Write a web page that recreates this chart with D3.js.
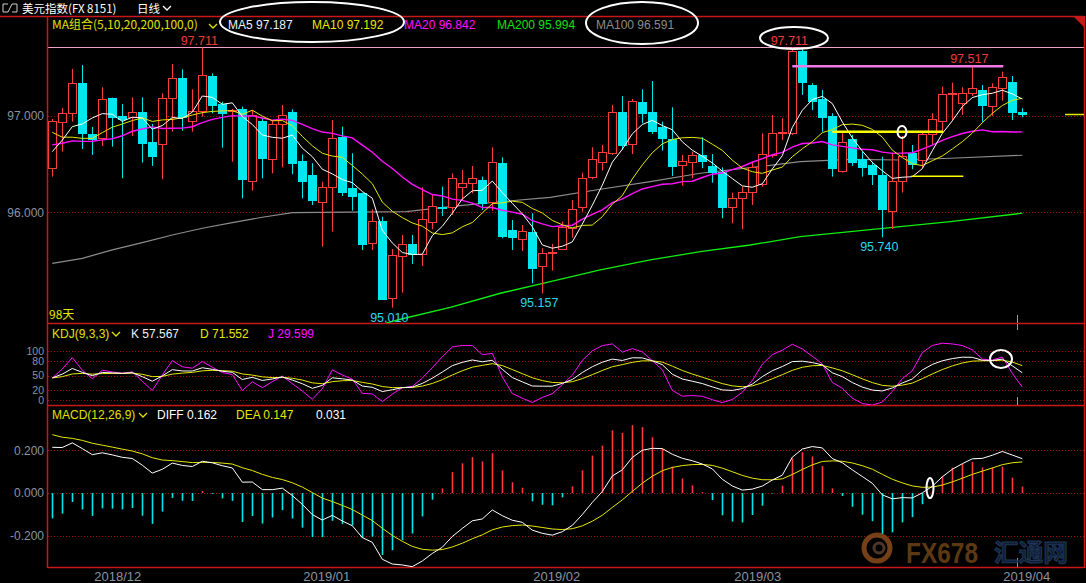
<!DOCTYPE html>
<html><head><meta charset="utf-8">
<script src="https://cdn.jsdelivr.net/npm/d3@7/dist/d3.min.js"></script>
<style>
html,body{margin:0;padding:0;background:#000;overflow:hidden;}
svg{display:block;font-family:"Liberation Sans",Arial,sans-serif;}
</style></head><body>
<svg id="chart" width="1086" height="583"></svg>
<script>
// ---------------- data ----------------
const opens  = [96.457,96.935,97.028,97.340,96.813,96.768,97.187,97.000,96.987,97.038,
                96.730,96.706,97.184,97.391,96.951,97.055,97.415,97.125,97.047,97.073,
                96.328,96.948,96.550,96.914,97.038,96.533,96.387,96.110,96.260,96.785,
                96.255,96.204,95.684,95.910,95.113,95.549,95.671,95.567,95.902,96.058,
                96.058,96.260,96.301,96.335,96.110,96.509,95.816,95.720,95.792,95.446,
                95.578,95.616,95.834,96.052,96.370,96.525,96.613,97.045,96.706,97.145,
                97.045,96.889,96.761,96.494,96.519,96.595,96.481,96.422,96.052,96.145,
                96.208,96.291,96.595,96.827,96.827,97.678,97.322,97.173,97.000,96.432,
                96.761,96.550,96.491,96.387,96.017,96.328,96.613,96.543,96.813,96.951,
                97.236,97.138,97.242,97.270,97.107,97.294,97.356,97.045];
const highs  = [96.969,97.083,97.488,97.530,96.886,97.298,97.190,97.125,97.194,97.194,
                96.917,97.236,97.540,97.485,97.277,97.711,97.443,97.148,97.073,97.097,
                97.062,96.979,96.958,97.114,97.070,96.602,96.509,96.318,96.958,96.889,
                96.613,96.204,96.031,95.954,95.619,95.764,95.764,96.260,96.180,96.266,
                96.405,96.439,96.481,96.370,96.675,96.571,95.920,95.868,95.990,95.626,
                95.671,95.902,96.128,96.411,96.675,96.699,97.114,97.208,97.177,97.277,
                97.363,96.941,97.090,96.595,96.629,96.779,96.605,96.467,96.204,96.266,
                96.525,96.820,97.010,96.976,97.711,97.703,97.340,97.270,97.028,96.820,
                96.803,96.629,96.525,96.577,96.619,96.792,96.699,96.837,97.028,97.304,
                97.346,97.298,97.517,97.322,97.340,97.460,97.415,97.080];
const lows   = [96.370,96.629,96.941,96.657,96.595,96.688,96.681,96.353,96.792,96.515,
                96.481,96.343,96.837,96.847,96.837,96.993,97.028,96.671,96.525,96.145,
                96.224,96.353,96.405,96.467,96.395,96.145,96.076,95.643,95.799,96.169,
                96.017,95.609,95.609,95.100,95.010,95.165,95.463,95.442,95.824,95.962,
                95.972,96.128,96.197,96.024,96.017,95.730,95.609,95.598,95.263,95.157,
                95.394,95.609,95.736,96.006,96.343,96.432,96.595,96.647,96.605,96.924,
                96.813,96.640,96.377,96.276,96.353,96.457,96.307,95.938,95.886,95.824,
                96.076,96.266,96.567,96.751,96.803,97.218,97.062,96.837,96.370,96.411,
                96.481,96.370,96.283,95.740,95.827,96.204,96.447,96.457,96.699,96.837,
                96.958,97.010,97.208,96.941,97.000,97.159,96.958,96.986];
const closes = [96.948,97.028,97.340,96.820,96.761,97.173,96.993,96.972,97.038,96.723,
                96.585,97.184,97.391,96.987,97.049,97.426,97.114,97.034,97.057,96.343,
                97.010,96.567,96.914,97.010,96.509,96.328,96.128,96.260,96.768,96.214,
                96.169,95.671,95.910,95.100,95.557,95.671,95.567,95.927,96.065,96.042,
                96.353,96.301,96.353,96.093,96.519,95.757,95.740,95.809,95.425,95.574,
                95.585,95.844,96.031,96.353,96.550,96.629,97.038,96.699,97.156,97.034,
                96.847,96.768,96.481,96.530,96.595,96.536,96.422,96.052,96.145,96.214,
                96.467,96.602,96.820,96.837,97.678,97.356,97.156,96.993,96.463,96.727,
                96.525,96.474,96.398,96.034,96.328,96.585,96.502,96.813,96.966,97.225,
                97.242,97.236,97.288,97.114,97.298,97.402,97.045,97.021];
// closes before the first visible candle (needed by MA5/10/20)
const preCloses = [96.70,96.85,96.92,96.75,96.88,96.76,96.35,96.10,96.25,96.15,
                   97.53,97.34,96.94,96.76,96.58,96.43,96.64,96.68,96.45];
// highs / lows of the 8 candles before the first visible one (KDJ window)
const kdjPreHigh = [97.45,97.35,96.98,96.80,96.62,96.72,96.78,96.70];
const kdjPreLow  = [97.15,96.90,96.70,96.48,96.33,96.40,96.52,96.40];
const kdjStart   = [40, 45];               // K, D before first candle
const macdStart  = [96.82, 96.60, 0.288];  // EMA12, EMA26, DEA before first candle
const ma100Idx = [0,3,6,9,12,15,18,21,24,35.4,39.8,44.8,49.8,54.8,59.8,64.8,69.8,74.8,79.8,84.8,89.8,97];
const ma100Val = [95.470,95.522,95.609,95.684,95.764,95.834,95.892,95.948,95.996,96.006,96.058,96.110,
                  96.155,96.239,96.318,96.405,96.463,96.525,96.550,96.543,96.561,96.592];
const ma200Idx = [33.3,34.8,39.8,44.8,49.8,54.8,59.8,64.8,69.8,74.8,79.8,84.8,89.8,97];
const ma200Val = [94.847,94.889,95.013,95.159,95.279,95.401,95.505,95.591,95.660,95.747,95.799,
                  95.851,95.902,95.990];
const monthLabels = ["2018/12","2019/01","2019/02","2019/03","2019/04"];
const monthIdx    = [6.5,27.4,50.4,70.5,97.4];
const priceTicks = [96, 97];
const kdjTicks   = [0, 20, 50, 80, 100];
const macdTicks  = [-0.2, 0, 0.2];
const maLegend   = ["MA5 97.187","MA10 97.192","MA20 96.842","MA200 95.994","MA100 96.591"];
const kdjLegend  = ["K 57.567","D 71.552","J 29.599"];
const macdLegend = ["DIFF 0.162","DEA 0.147","0.031"];
const highMarks  = [15, 74, 92];   // candle indexes with labelled highs
const lowMarks   = [34, 49, 83];   // candle indexes with labelled lows

// ---------------- setup ----------------
const RED = "#ff3b3b", CYAN = "#00e8ee", FRAME = "#c81818", GRID = "#9a1010", AXT = "#8a94a0";
const svg = d3.select("#chart");
svg.append("rect").attr("width",1086).attr("height",583).attr("fill","#000");
const N = closes.length, idx = d3.range(N);
const L = 48, R = 1084;
const x  = d3.scaleLinear().domain([0, N-1]).range([52.3, 1022.3]);
const yP = d3.scaleLinear().domain([95.010, 97.711]).range([307.6, 47.5]);
const yK = d3.scaleLinear().domain([0, 100]).range([400, 351]);
const yM = d3.scaleLinear().domain([-0.2, 0.2]).range([535.8, 450.3]);
const cx = i => Math.round(x(i)) + 0.5;

const defs = svg.append("defs");
defs.append("clipPath").attr("id","clipP").append("rect").attr("x",L).attr("y",46).attr("width",R-L).attr("height",323-46);
defs.append("clipPath").attr("id","clipK").append("rect").attr("x",L).attr("y",324).attr("width",R-L).attr("height",81);
defs.append("clipPath").attr("id","clipM").append("rect").attr("x",L).attr("y",406).attr("width",R-L).attr("height",161);

// ---------------- indicators ----------------
const allC = preCloses.concat(closes), P = preCloses.length;
function ma(n){ return idx.map(i => d3.mean(allC.slice(P+i-n+1, P+i+1))); }
const ma5 = ma(5), ma10 = ma(10), ma20 = ma(20);

const kH = kdjPreHigh.concat(highs), kL = kdjPreLow.concat(lows), Q = kdjPreHigh.length;
let K = kdjStart[0], D = kdjStart[1];
const kA = [], dA = [], jA = [];
idx.forEach(i => {
  const hh = d3.max(kH.slice(Q+i-8, Q+i+1)), ll = d3.min(kL.slice(Q+i-8, Q+i+1));
  const rsv = (closes[i]-ll)/(hh-ll)*100;
  K = (2*K + rsv)/3; D = (2*D + K)/3;
  kA.push(K); dA.push(D); jA.push(3*K-2*D);
});
let e12 = macdStart[0], e26 = macdStart[1], dea = macdStart[2];
const diffA = [], deaA = [], histA = [];
idx.forEach(i => {
  e12 = e12*11/13 + closes[i]*2/13;
  e26 = e26*25/27 + closes[i]*2/27;
  const df = e12 - e26; dea = dea*0.8 + df*0.2;
  diffA.push(df); deaA.push(dea); histA.push(2*(df-dea));
});

// ---------------- frame & grid ----------------
function hline(y, x1, x2, color, w, dash){
  svg.append("line").attr("x1",x1).attr("x2",x2).attr("y1",y).attr("y2",y)
     .attr("stroke",color).attr("stroke-width",w||1).attr("stroke-dasharray",dash||null);
}
priceTicks.forEach(v => hline(Math.round(yP(v))+0.5, L, R, GRID, 1, "1,2"));
kdjTicks.forEach(v => hline(Math.round(yK(v))+0.5, L, R, GRID, 1, "1,2"));
macdTicks.forEach(v => hline(Math.round(yM(v))+0.5, L, R, GRID, 1, "1,2"));

hline(16.5, 0, R, FRAME, 1.5);
hline(47.5, L, R, "#f0a0c4", 1.2);
hline(323.5, L, R, FRAME, 1.5);
hline(405.5, L, R, FRAME, 1.5);
hline(567.5, L, R, FRAME, 1.5);
svg.append("line").attr("x1",L-0.5).attr("x2",L-0.5).attr("y1",16).attr("y2",568).attr("stroke",FRAME).attr("stroke-width",1.5);
svg.append("line").attr("x1",R+0.5).attr("x2",R+0.5).attr("y1",16).attr("y2",568).attr("stroke",FRAME).attr("stroke-width",1.5);
svg.append("path").attr("d",`M${R-10},17 L${R},17 L${R},27 Z`).attr("fill","#c81818");
// month separator ticks at right
[[315,323],[324,330],[397,405],[558,567]].forEach(s =>
  svg.append("line").attr("x1",1017.5).attr("x2",1017.5).attr("y1",s[0]).attr("y2",s[1]).attr("stroke","#9a9a9a"));

// ---------------- axes ----------------
function styleAxis(g, size, color){
  g.select(".domain").remove();
  g.selectAll("text").attr("fill", color).attr("font-size", size).attr("font-family","Liberation Sans, Arial, sans-serif");
}
const fmt3 = v => d3.format(".3f")(v).replace("\u2212","-");
svg.append("g").attr("transform",`translate(${L},0)`)
  .call(d3.axisLeft(yP).tickValues(priceTicks).tickFormat(fmt3).tickSize(0).tickPadding(4))
  .call(g => styleAxis(g, 12, AXT));
svg.append("g").attr("transform",`translate(${L},0)`)
  .call(d3.axisLeft(yK).tickValues(kdjTicks).tickFormat(d3.format("d")).tickSize(0).tickPadding(4))
  .call(g => styleAxis(g, 10.5, AXT));
svg.append("g").attr("transform",`translate(${L},0)`)
  .call(d3.axisLeft(yM).tickValues(macdTicks).tickFormat(fmt3).tickSize(0).tickPadding(4))
  .call(g => styleAxis(g, 12, AXT));
svg.append("g").attr("transform",`translate(0,567)`)
  .call(d3.axisBottom(x).tickValues(monthIdx).tickFormat((d,i)=>monthLabels[i]).tickSize(0).tickPadding(5))
  .call(g => styleAxis(g, 13, AXT));

// ---------------- price panel ----------------
const gP = svg.append("g").attr("clip-path","url(#clipP)");
const lineIdx = (arr, sc) => d3.line().x((d,i)=>x(i)).y(d=>sc(d))(arr);
const linePts = (ix, vals, sc) => d3.line().x((d,i)=>x(ix[i])).y(d=>sc(d))(vals);
gP.append("path").attr("d", linePts(ma100Idx, ma100Val, yP)).attr("fill","none").attr("stroke","#8c8c8c").attr("stroke-width",1.2);
gP.append("path").attr("d", linePts(ma200Idx, ma200Val, yP)).attr("fill","none").attr("stroke","#10ee10").attr("stroke-width",1.3);

gP.selectAll("line.wick").data(idx).join("line").attr("class","wick")
  .attr("x1", cx).attr("x2", cx)
  .attr("y1", i => yP(highs[i])).attr("y2", i => yP(lows[i]))
  .attr("stroke", i => closes[i] >= opens[i] ? RED : CYAN).attr("stroke-width",1);
gP.selectAll("rect.body").data(idx).join("rect").attr("class","body")
  .each(function(i){
    const up = closes[i] >= opens[i];
    const yt = Math.round(yP(Math.max(opens[i], closes[i])));
    const yb = Math.round(yP(Math.min(opens[i], closes[i])));
    const left = Math.round(x(i)) - 4;
    const s = d3.select(this);
    if (up) s.attr("x", left+0.5).attr("width", 8).attr("y", yt+0.5).attr("height", Math.max(1, yb-yt))
             .attr("fill","#000").attr("stroke",RED).attr("stroke-width",1);
    else    s.attr("x", left).attr("width", 9).attr("y", yt).attr("height", Math.max(2, yb-yt+1))
             .attr("fill",CYAN);
  });

gP.append("path").attr("d", lineIdx(ma20, yP)).attr("fill","none").attr("stroke","#ff10ff").attr("stroke-width",1.4);
gP.append("path").attr("d", lineIdx(ma10, yP)).attr("fill","none").attr("stroke","#e8e800").attr("stroke-width",1);
gP.append("path").attr("d", lineIdx(ma5, yP)).attr("fill","none").attr("stroke","#ffffff").attr("stroke-width",1);

// last price marker
hline(Math.round(yP(closes[N-1]))+0.5, 1065, R, "#e8e800", 1.5);

// user-drawn annotation lines
svg.append("line").attr("x1",x(74)).attr("x2",x(96)-9).attr("y1",yP(97.517)).attr("y2",yP(97.517)).attr("stroke","#f078e6").attr("stroke-width",2.5);
svg.append("line").attr("x1",x(79)-10).attr("x2",x(89)+1).attr("y1",yP(96.835)).attr("y2",yP(96.835)).attr("stroke","#ffff00").attr("stroke-width",2.5);
svg.append("line").attr("x1",x(86)-1).attr("x2",x(91)+1).attr("y1",yP(96.373)).attr("y2",yP(96.373)).attr("stroke","#ffff00").attr("stroke-width",1.5);

// extreme labels
svg.selectAll("text.hi").data(highMarks).join("text").attr("class","hi")
  .attr("x", i => x(i)-3).attr("y", i => yP(highs[i])-3).attr("text-anchor","middle")
  .attr("font-size",12.5).attr("fill","#f03a3a").text(i => highs[i].toFixed(3));
svg.selectAll("text.lo").data(lowMarks).join("text").attr("class","lo")
  .attr("x", i => x(i)-3).attr("y", i => yP(lows[i])+14).attr("text-anchor","middle")
  .attr("font-size",12.5).attr("fill","#2ad6ea").text(i => lows[i].toFixed(3));
svg.append("text").attr("x",49).attr("y",319).attr("font-size",12).attr("fill","#e8e800")
  .attr("font-family","Noto Sans CJK SC, sans-serif").text(N + "天");

// ---------------- KDJ panel ----------------
const gK = svg.append("g").attr("clip-path","url(#clipK)");
gK.append("path").attr("d", lineIdx(jA, yK)).attr("fill","none").attr("stroke","#ff10ff").attr("stroke-width",1);
gK.append("path").attr("d", lineIdx(dA, yK)).attr("fill","none").attr("stroke","#e8e800").attr("stroke-width",1);
gK.append("path").attr("d", lineIdx(kA, yK)).attr("fill","none").attr("stroke","#ffffff").attr("stroke-width",1);

// ---------------- MACD panel ----------------
const gM = svg.append("g").attr("clip-path","url(#clipM)");
gM.selectAll("line.bar").data(idx).join("line").attr("class","bar")
  .attr("x1", cx).attr("x2", cx).attr("y1", yM(0)).attr("y2", i => yM(histA[i]))
  .attr("stroke", i => histA[i] >= 0 ? RED : CYAN).attr("stroke-width",1.6);
gM.append("path").attr("d", lineIdx(deaA, yM)).attr("fill","none").attr("stroke","#e8e800").attr("stroke-width",1);
gM.append("path").attr("d", lineIdx(diffA, yM)).attr("fill","none").attr("stroke","#ffffff").attr("stroke-width",1);

// ---------------- header texts ----------------
const cjk = "Noto Sans CJK SC, Liberation Sans, sans-serif";
svg.append("path").attr("d","M3,4 h5 M3,4 v8 M3,12 h5 M17,4 h-5 M17,4 v8 M17,12 h-5 M8,12 L12,4")
   .attr("stroke","#d0d0d0").attr("fill","none").attr("stroke-width",1);
svg.append("text").attr("x",22).attr("y",13).attr("font-size",11.5).attr("fill","#ffffff").attr("font-family",cjk).text("美元指数(FX 8151)");
svg.append("text").attr("x",137).attr("y",13).attr("font-size",11.5).attr("fill","#ffffff").attr("font-family",cjk).text("日线");
const chev = (x0,y0,c) => svg.append("path").attr("d",`M${x0},${y0} l4,4 l4,-4`).attr("stroke",c).attr("fill","none").attr("stroke-width",1.3);
chev(163,6,"#ffffff");

svg.append("text").attr("x",52).attr("y",29).attr("font-size",12).attr("fill","#e0e000").attr("font-family",cjk).text("MA组合(5,10,20,200,100,0)");
chev(209,24,"#e0e000");
const maCols = ["#e8f2ff","#e8e800","#ff10ff","#10e010","#8c8c8c"];
const maX = [228, 312, 404, 497, 596];
maLegend.forEach((t,i) => svg.append("text").attr("x",maX[i]).attr("y",29).attr("font-size",12).attr("fill",maCols[i]).text(t));

svg.append("text").attr("x",52).attr("y",338).attr("font-size",12).attr("fill","#e0e000").text("KDJ(9,3,3)");
chev(112,332,"#e0e000");
const kCols = ["#e8f2ff","#e8e800","#ff10ff"], kX = [131, 200, 268];
kdjLegend.forEach((t,i) => svg.append("text").attr("x",kX[i]).attr("y",338).attr("font-size",12).attr("fill",kCols[i]).text(t));

svg.append("text").attr("x",52).attr("y",419).attr("font-size",12).attr("fill","#e0e000").text("MACD(12,26,9)");
chev(139,413,"#e0e000");
const mCols = ["#ffffff","#e8e800","#ffffff"], mX = [157, 236, 316];
macdLegend.forEach((t,i) => svg.append("text").attr("x",mX[i]).attr("y",419).attr("font-size",12).attr("fill",mCols[i]).text(t));

// ---------------- annotation ellipses ----------------
const ell = (cx0,cy0,rx,ry,w) => svg.append("ellipse").attr("cx",cx0).attr("cy",cy0).attr("rx",rx).attr("ry",ry)
  .attr("fill","none").attr("stroke","#ffffff").attr("stroke-width",w||2);
ell(312,22,92,20);
ell(642,23,56,21);
ell(794,38,34,11);
ell(902,132,4.5,6,2);
ell(1001,359,11,9,2);
ell(930,488,3.5,10,2);

// ---------------- watermark ----------------
const wm = svg.append("g").attr("opacity",0.85);
wm.append("circle").attr("cx",877).attr("cy",548).attr("r",13).attr("fill","none").attr("stroke","#8a4a1c").attr("stroke-width",5);
wm.append("circle").attr("cx",879).attr("cy",548).attr("r",5).attr("fill","none").attr("stroke","#5a4030").attr("stroke-width",3);
wm.append("text").attr("x",906).attr("y",563).attr("font-size",30).attr("font-weight","bold")
  .attr("textLength",72).attr("lengthAdjust","spacingAndGlyphs").attr("fill","#6e4416").text("FX678");
wm.append("text").attr("x",994).attr("y",561).attr("font-size",24).attr("font-weight","bold").attr("font-family",cjk)
  .attr("textLength",74).attr("lengthAdjust","spacingAndGlyphs").attr("fill","#14243a").attr("stroke","#23406a").attr("stroke-width",1).text("汇通网");
</script>
</body></html>
